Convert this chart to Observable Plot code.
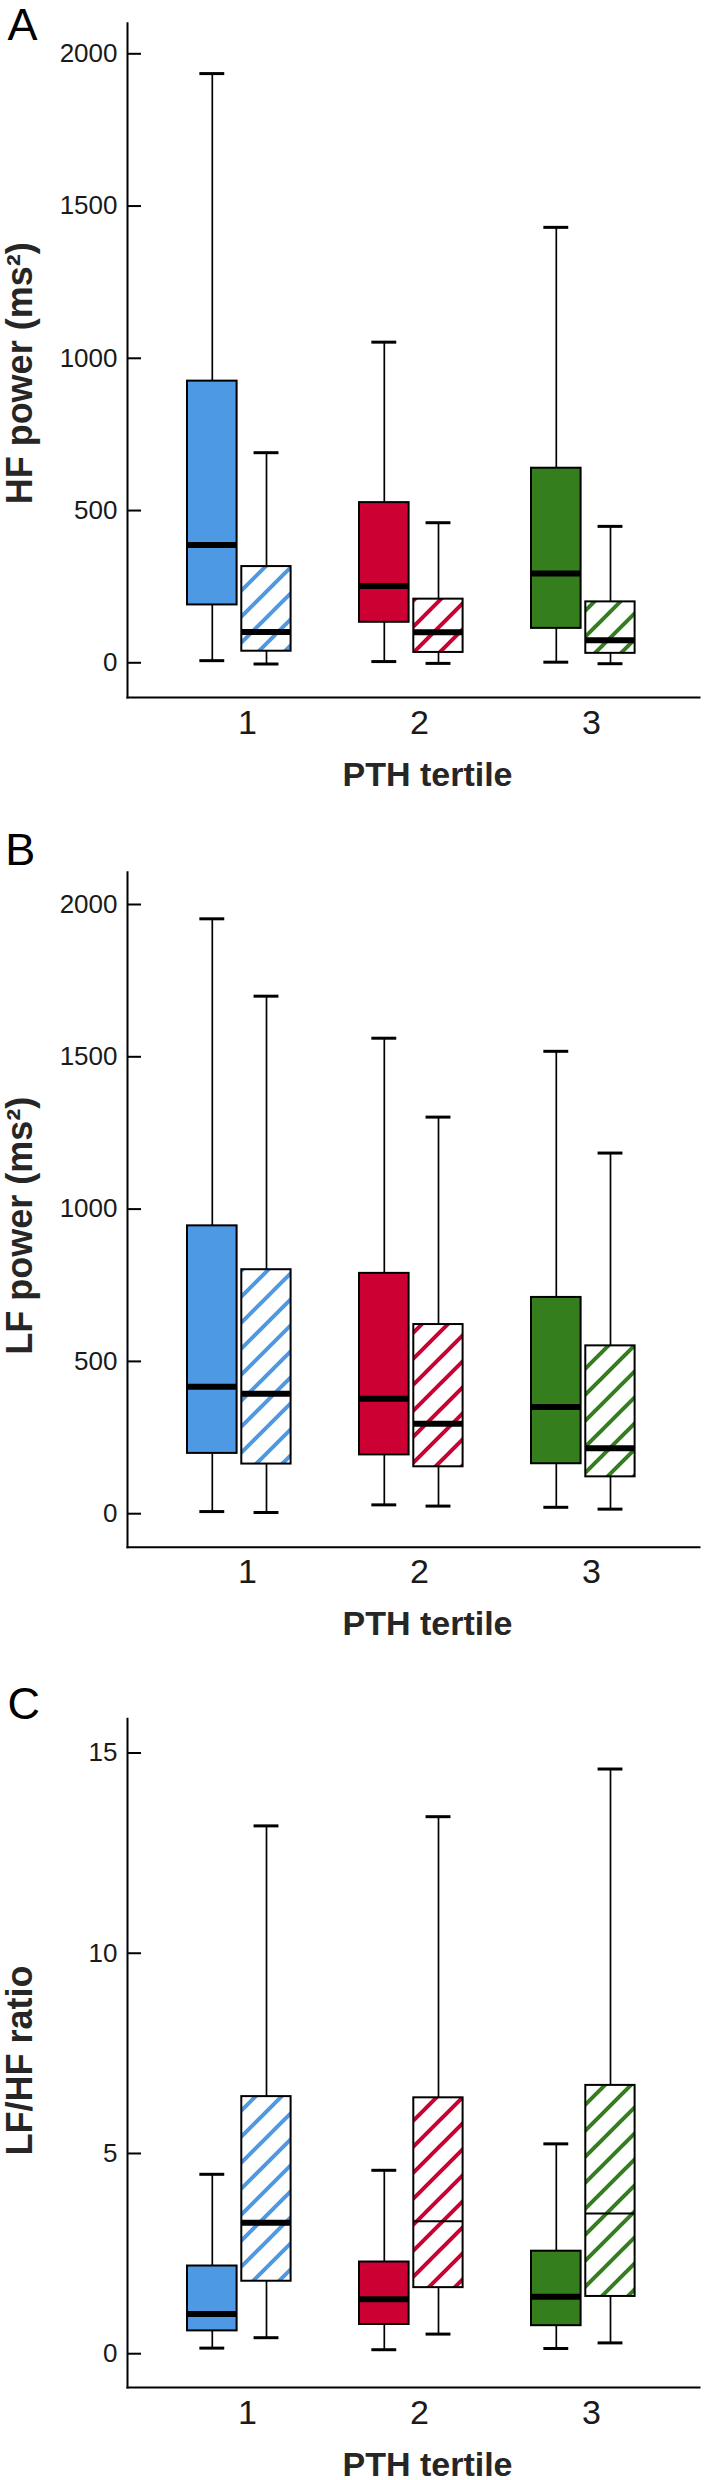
<!DOCTYPE html>
<html>
<head>
<meta charset="utf-8">
<script src="https://cdn.jsdelivr.net/npm/d3@7"></script>
<script src="https://cdn.jsdelivr.net/npm/@observablehq/plot@0.6"></script>
<style>
  html, body { margin: 0; padding: 0; background: #fff; }
  #fig { width: 704px; height: 2480px; overflow: hidden; }
  #fig svg { display: block; }
</style>
</head>
<body>
<div id="fig"></div>
<script>
// ---------- data ----------
const tertiles = ["1", "2", "3"];
const groups = ["solid", "hatched"];
// order of each series: [T1 solid, T1 hatched, T2 solid, T2 hatched, T3 solid, T3 hatched]

// A: HF power (ms²)
const hfLow  = [7, -4, 4, -2, 2, -3];
const hfQ1   = [190, 38, 133, 34, 113, 31];
const hfMed  = [387, 101, 252, 100, 293, 74];
const hfQ3   = [925, 316, 526, 209, 639, 200];
const hfHigh = [1935, 690, 1053, 460, 1430, 448];

// B: LF power (ms²)
const lfLow  = [7, 4, 29, 25, 21, 15];
const lfQ1   = [198, 163, 193, 154, 164, 121];
const lfMed  = [417, 394, 377, 295, 350, 215];
const lfQ3   = [945, 801, 789, 621, 710, 551];
const lfHigh = [1953, 1699, 1561, 1302, 1518, 1184];

// C: LF/HF ratio
const rLow  = [0.14, 0.40, 0.10, 0.49, 0.13, 0.27];
const rQ1   = [0.57, 1.81, 0.73, 1.65, 0.70, 1.43];
const rMed  = [0.99, 3.27, 1.36, 3.31, 1.42, 3.50];
const rQ3   = [2.19, 6.42, 2.29, 6.39, 2.56, 6.70];
const rHigh = [4.48, 13.18, 4.58, 13.41, 5.24, 14.60];

const powerTicks = [0, 500, 1000, 1500, 2000];
const ratioTicks = [0, 5, 10, 15];

const panelLetters = ["A", "B", "C"];
const yTitles = ["HF power (ms²)", "LF power (ms²)", "LF/HF ratio"];
const xTitle = "PTH tertile";

// ---------- styling ----------
const colors = {"1": "#4e99e3", "2": "#cc0033", "3": "#357e1d"};
const FONT = "'Liberation Sans', Arial, Helvetica, sans-serif";

function rowsOf(low, q1, med, q3, high) {
  return low.map((_, i) => ({
    tertile: tertiles[Math.floor(i / 2)],
    group: groups[i % 2],
    low: low[i], q1: q1[i], med: med[i], q3: q3[i], high: high[i]
  }));
}

// geometry of the two boxes inside each tertile band
const geo = {
  solid:   {insetLeft: 1,    insetRight: 55.4, dx: -27.2, capL: 13.35, capR: 67.75},
  hatched: {insetLeft: 55.3, insetRight: 1.4,  dx: 27.0,  capL: 67.55, capR: 13.55}
};

function panel(cfg) {
  const {key, rows, ticks, yDomain, height, marginTop, marginBottom,
         letter, letterDx, letterDy, yTitle, yTitleDy, xTitleDy, thin} = cfg;
  const boxMarks = groups.flatMap(g => {
    const d = rows.filter(r => r.group === g), s = geo[g];
    return [
      Plot.ruleX(d, {x: "tertile", y1: "low", y2: "high", dx: s.dx, stroke: "black", strokeWidth: 1.7}),
      Plot.tickY(d, {x: "tertile", y: "low", insetLeft: s.capL, insetRight: s.capR, stroke: "black", strokeWidth: 3}),
      Plot.tickY(d, {x: "tertile", y: "high", insetLeft: s.capL, insetRight: s.capR, stroke: "black", strokeWidth: 3}),
      Plot.barY(d, {x: "tertile", y1: "q1", y2: "q3", insetLeft: s.insetLeft, insetRight: s.insetRight,
        fill: r => g === "solid" ? colors[r.tertile] : `url(#hatch-${key}-${r.tertile})`,
        stroke: "black", strokeWidth: 2}),
      Plot.tickY(d, {x: "tertile", y: "med", insetLeft: s.insetLeft, insetRight: s.insetRight,
        stroke: "black", strokeWidth: r => (thin.includes(r.tertile + r.group) ? 2 : 6)})
    ];
  });

  const svg = Plot.plot({
    width: 704,
    height,
    marginLeft: 127,
    marginRight: 5,
    marginTop,
    marginBottom,
    style: {fontFamily: FONT, background: "white", color: "black"},
    x: {domain: tertiles, paddingInner: 0.385, paddingOuter: 0.35, align: 0.48},
    y: {domain: yDomain},
    color: {type: "identity"},
    marks: [
      ...boxMarks,
      Plot.frame({anchor: "left", stroke: "black", strokeWidth: 2}),
      Plot.frame({anchor: "bottom", stroke: "black", strokeWidth: 2}),
      Plot.axisY(ticks, {anchor: "left", tickSize: -14, tickPadding: 24, strokeWidth: 2,
        fontSize: 26, fill: "#1a1a1a", stroke: "black", tickFormat: d => String(d), label: null}),
      Plot.axisX({tickSize: 0, tickPadding: 12, fontSize: 34, dx: 8, fill: "#1a1a1a", label: null}),
      Plot.text([xTitle], {frameAnchor: "bottom", textAnchor: "middle", dx: 14, dy: xTitleDy, lineAnchor: "bottom",
        fontSize: 34, fontWeight: "bold", fill: "#262626"}),
      Plot.text([yTitle], {frameAnchor: "left", textAnchor: "middle", rotate: -90, dx: -96, dy: yTitleDy,
        lineAnchor: "bottom", fontSize: 36, fontWeight: "bold", fill: "#262626"}),
      Plot.text([letter], {frameAnchor: "top-left", textAnchor: "start", lineAnchor: "bottom",
        dx: letterDx, dy: letterDy, fontSize: 45, fill: "black"})
    ]
  });

  // hatch patterns
  const P = 26;
  const defs = d3.select(svg).insert("defs", ":first-child");
  tertiles.forEach(t => {
    const p = defs.append("pattern")
      .attr("id", `hatch-${key}-${t}`)
      .attr("patternUnits", "userSpaceOnUse")
      .attr("width", P).attr("height", P);
    p.append("rect").attr("width", P).attr("height", P).attr("fill", "white");
    p.append("path")
      .attr("d", `M${-P/4},${P/4}L${P/4},${-P/4}M0,${P}L${P},0M${3*P/4},${5*P/4}L${5*P/4},${3*P/4}`)
      .attr("stroke", colors[t]).attr("stroke-width", 4).attr("fill", "none");
  });
  return svg;
}

const fig = document.getElementById("fig");

fig.appendChild(panel({
  key: "A", rows: rowsOf(hfLow, hfQ1, hfMed, hfQ3, hfHigh), ticks: powerTicks,
  yDomain: [-114, 2100.5], height: 810, marginTop: 22.7, marginBottom: 113,
  letter: panelLetters[0], letterDx: -120, letterDy: 16.3,
  yTitle: yTitles[0], yTitleDy: 13, xTitleDy: 88, thin: []
}));

fig.appendChild(panel({
  key: "B", rows: rowsOf(lfLow, lfQ1, lfMed, lfQ3, lfHigh), ticks: powerTicks,
  yDomain: [-110.3, 2105.7], height: 840, marginTop: 61.8, marginBottom: 103.2,
  letter: panelLetters[1], letterDx: -122.3, letterDy: -7.8,
  yTitle: yTitles[1], yTitleDy: 16, xTitleDy: 87.7, thin: []
}));

fig.appendChild(panel({
  key: "C", rows: rowsOf(rLow, rQ1, rMed, rQ3, rHigh), ticks: ratioTicks,
  yDomain: [-0.846, 15.854], height: 830, marginTop: 68.3, marginBottom: 92.9,
  letter: panelLetters[2], letterDx: -120, letterDy: 0.2,
  yTitle: yTitles[2], yTitleDy: 7.3, xTitleDy: 88.5, thin: ["2hatched", "3hatched"]
}));
</script>
</body>
</html>
